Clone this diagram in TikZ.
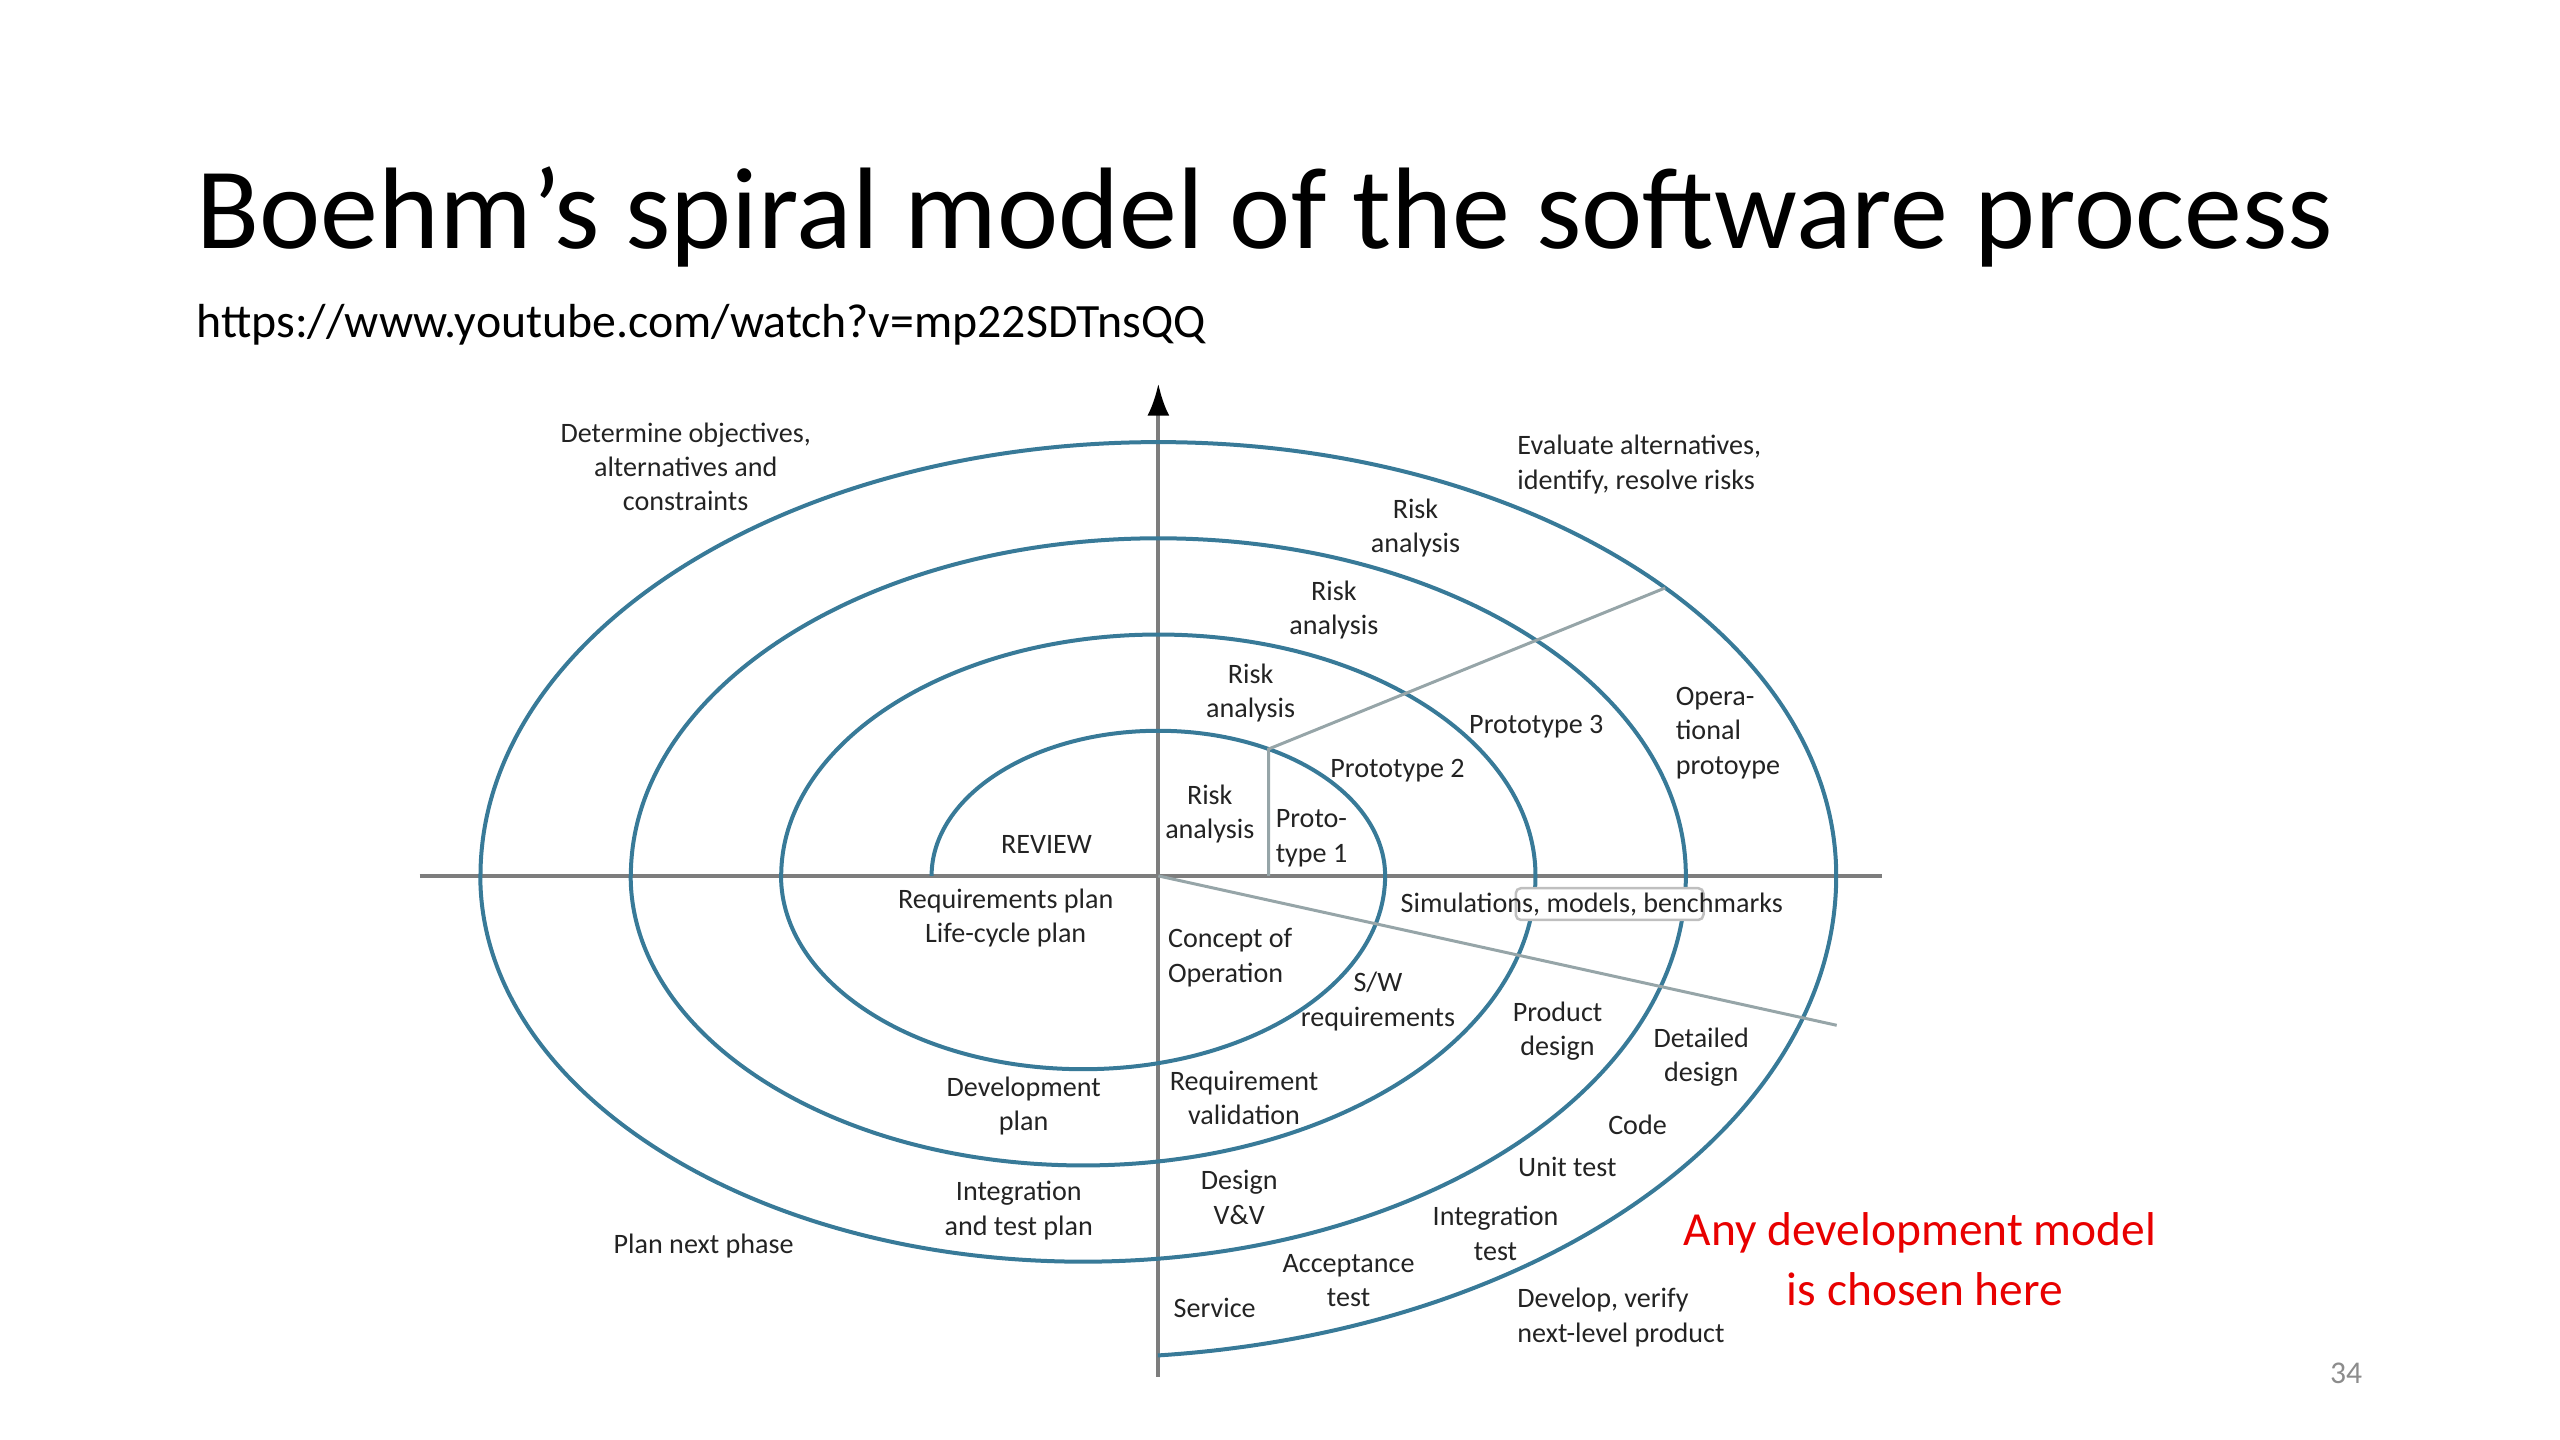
\documentclass[tikz,border=0pt]{standalone}
\usepackage{fontspec}
\setmainfont{Carlito}
\usetikzlibrary{arrows.meta,positioning}
\definecolor{spiralblue}{RGB}{56,122,152}
\definecolor{axisgrey}{RGB}{125,125,125}
\definecolor{guidegrey}{RGB}{150,165,168}
\definecolor{labelgrey}{RGB}{35,35,35}
\definecolor{alertred}{RGB}{232,0,0}
\begin{document}
\begin{tikzpicture}[
    x=0.16327mm, y=0.16327mm,
    >={Latex[length=3.2mm,width=2.2mm,color=black]},
    lbl/.style={font=\fontsize{8}{9.75}\selectfont, text=labelgrey, align=center, inner sep=0pt},
    lbll/.style={lbl, align=left, anchor=west},
    spiral/.style={draw=spiralblue, line width=0.4mm},
    axis/.style={draw=axisgrey, line width=0.4mm},
    guide/.style={draw=guidegrey, line width=0.3mm},
    redtext/.style={inner sep=0pt, text=alertred, font=\fontsize{13.5}{16.2}\selectfont}
  ]
    \useasboundingbox (-709.5,-345.5) rectangle (858.5,536.5);

    \node[anchor=base west, inner sep=0pt, font=\fontsize{33}{39}\selectfont] (title) at (-589.5,384.5)
      {Boehm’s spiral model of the software process};
    \node[anchor=base west, inner sep=0pt, font=\fontsize{13.6}{16}\selectfont] (url) at (-589.5,329.5)
      {https://www.youtube.com/watch?v=mp22SDTnsQQ};

    \coordinate (O) at (0,0);
    \coordinate (west) at (-452.5,0);
    \coordinate (east) at (443.2,0);
    \coordinate (south) at (0,-306.9);
    \coordinate (north) at (0,301.5);
    \draw[axis] (west) -- (east);
    \draw[axis,->] (south) -- (north);

    \foreach \k in {0,1,2} {
      \pgfmathsetmacro\ru{138.9+92.1*\k}
      \pgfmathsetmacro\rl{185+92.1*\k}
      \pgfmathsetmacro\bu{0.64*\ru}
      \pgfmathsetmacro\bl{0.64*\rl}
      \draw[spiral] (-\ru,0) arc[start angle=180, end angle=0, x radius=\ru, y radius=\bu]
                    arc[start angle=0, end angle=-180, x radius=\rl, y radius=\bl];
    }
    \draw[spiral] (-415.2,0) arc[start angle=180, end angle=0, x radius=415.2, y radius=265.7]
                  arc[start angle=0, end angle=-84.3, x radius=461.3, y radius=295.2];

    \coordinate (p1base) at (67.5,0);
    \coordinate (p1top) at (67.5,77.7);
    \coordinate (optop) at (41.6:415.2 and 265.7);
    \coordinate (simend) at (415.5,-91.5);
    \draw[guide] (p1base) -- (p1top) -- (optop);
    \draw[guide] (O) -- (simend);

    \draw[draw=black!25, fill=white, rounded corners=1.5pt, line width=0.25mm] (218.9,-7.5) rectangle (333.9,-27);

    \node[lbl] (objectives) at (-289.5,250.5) {Determine objectives,\\alternatives and\\constraints};
    \node[lbll] (evaluate) at (219.5,252) {Evaluate alternatives,\\identify, resolve risks};
    \node[lbl] (risk4) at (157.5,213) {Risk\\analysis};
    \node[lbl] (risk3) at (107.5,163) {Risk\\analysis};
    \node[lbl] (risk2) at (56.5,112) {Risk\\analysis};
    \node[lbl] (risk1) at (31.5,38) {Risk\\analysis};
    \node[lbll] (proto1) at (71.5,23) {Proto-\\type 1};
    \node[lbl] (proto2) at (146.5,64.5) {Prototype 2};
    \node[lbl] (proto3) at (231.5,91.5) {Prototype 3};
    \node[lbll] (opproto) at (316.5,87.5) {Opera-\\tional\\protoype};
    \node[lbl] (review) at (-68.5,19.5) {REVIEW};
    \node[lbl] (reqplan) at (-93.5,-26) {Requirements plan\\Life-cycle plan};
    \node[lbll] (concept) at (5.5,-50) {Concept of\\Operation};
    \node[lbl] (simul) at (265.5,-17.5) {Simulations, models, benchmarks};
    \node[lbl] (swreq) at (134.5,-77) {S/W\\requirements};
    \node[lbl] (proddesign) at (244.5,-95) {Product\\design};
    \node[lbl] (detdesign) at (332.5,-111) {Detailed\\design};
    \node[lbl] (code) at (293.5,-152.5) {Code};
    \node[lbl] (unittest) at (250.5,-178.5) {Unit test};
    \node[lbl] (inttest) at (206.5,-219) {Integration\\test};
    \node[lbl] (acctest) at (116.5,-248) {Acceptance\\test};
    \node[lbl] (service) at (34.5,-264.5) {Service};
    \node[lbll] (develop) at (219.5,-270.5) {Develop, verify\\next-level product};
    \node[lbl] (reqval) at (52.5,-136) {Requirement\\validation};
    \node[lbl] (designvv) at (49.5,-197) {Design\\V\&V};
    \node[lbl] (devplan) at (-82.5,-141) {Development\\plan};
    \node[lbl] (intplan) at (-85.5,-205) {Integration\\and test plan};
    \node[lbl] (nextphase) at (-278.5,-226.5) {Plan next phase};

    \node[redtext] (anymodel) at (466.5,-218.5) {Any development model};
    \node[redtext, below right=5.7mm and 0.5mm of anymodel.center, anchor=center] (chosen) {is chosen here};
    \node[inner sep=0pt, text=black!45, font=\fontsize{9}{11}\selectfont] (pageno) at (727.5,-304.5) {34};
  \end{tikzpicture}
\end{document}
